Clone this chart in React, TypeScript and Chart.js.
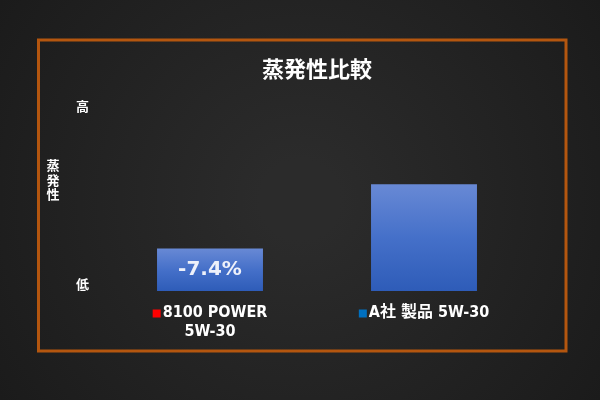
import { useEffect, useRef } from 'react';
import { Chart, registerables } from 'chart.js';

Chart.register(...registerables);

// 軸ラベル（先頭の空白はマーカー用）
const categories: string[][] = [['  8100 POWER', '5W-30'], ['  A社 製品 5W-30']];
const markerColors = ['#ff0000', '#0070c0'];
const values = [92.6, 100];
const barLabels = ['-7.4%', ''];
const yTickValues = [88.5, 109];
const yTickLabels = ['低', '高'];
const yTitle = ['蒸', '発', '性'];
const chartTitle = '蒸発性比較';

const CJK = '"Noto Sans CJK JP", sans-serif';
const LATIN = '"DejaVu Sans Condensed", "Noto Sans CJK JP", sans-serif';
const X_PAD = 12;
const X_LINE = 19;

const decor = {
  id: 'decor',
  beforeDraw(chart: any) {
    const { ctx, width, height } = chart;
    ctx.save();
    const g = ctx.createRadialGradient(width / 2, height / 2, 40, width / 2, height / 2, 380);
    g.addColorStop(0, '#2b2b2b');
    g.addColorStop(1, '#1a1a1a');
    ctx.fillStyle = g;
    ctx.fillRect(0, 0, width, height);
    // 枠
    ctx.strokeStyle = '#b4560f';
    ctx.lineWidth = 3;
    ctx.strokeRect(38.5, 40, 527.5, 311);
    ctx.restore();
  },
  afterDraw(chart: any) {
    const { ctx, chartArea } = chart;
    const x = chart.scales.x;
    const y = chart.scales.y;
    ctx.save();
    ctx.textAlign = 'center';
    ctx.textBaseline = 'middle';

    // 棒の中の差分ラベル
    ctx.font = 'bold 20px "DejaVu Sans", sans-serif';
    ctx.fillStyle = '#eef1fa';
    values.forEach((v, i) => {
      if (!barLabels[i]) return;
      const cx = x.getPixelForValue(i);
      const cy = (y.getPixelForValue(v) + chartArea.bottom) / 2;
      ctx.fillText(barLabels[i], cx, cy);
    });

    // 縦書きの軸タイトル
    ctx.font = 'bold 13px ' + CJK;
    ctx.fillStyle = '#ffffff';
    yTitle.forEach((ch, i) => {
      ctx.fillText(ch, chartArea.left - 50, 180 + (i - 1) * 14.5);
    });

    // ラベル前の色付きマーカー
    ctx.font = 'bold 16px ' + LATIN;
    categories.forEach((lines, i) => {
      const px = x.getPixelForTick(i);
      const w = ctx.measureText(lines[0]).width;
      const left = px - w / 2;
      const cy = x.top + X_PAD + X_LINE / 2 + 1;
      ctx.fillStyle = markerColors[i];
      ctx.fillRect(left, cy - 4, 8, 8);
    });
    ctx.restore();
  },
};

export default function App() {
  const canvasRef = useRef<HTMLCanvasElement>(null);
  const chartRef = useRef<Chart | null>(null);

  useEffect(() => {
    if (!canvasRef.current) return;
    if (chartRef.current) chartRef.current.destroy();

    chartRef.current = new Chart(canvasRef.current, {
      type: 'bar',
      data: {
        labels: categories,
        datasets: [
          {
            data: values,
            backgroundColor: (c: any) => {
              const chart = c.chart;
              if (!chart.chartArea || c.type !== 'data') return '#4472c4';
              const y = chart.scales.y;
              const top = y.getPixelForValue(c.parsed.y);
              const base = chart.chartArea.bottom;
              const g = chart.ctx.createLinearGradient(0, top, 0, base);
              g.addColorStop(0, '#6889d5');
              g.addColorStop(0.5, '#4570c9');
              g.addColorStop(1, '#2e5cb8');
              return g;
            },
            borderWidth: 0,
            categoryPercentage: 1,
            barPercentage: 0.495,
          },
        ],
      },
      options: {
        responsive: true,
        maintainAspectRatio: false,
        animation: false,
        layout: { padding: { left: 76, right: 69, top: 40, bottom: 62 } },
        plugins: {
          legend: { display: false },
          tooltip: { enabled: false },
          title: {
            display: true,
            text: chartTitle,
            fullSize: false,
            color: '#ffffff',
            font: { family: CJK, size: 22, weight: 'bold', lineHeight: 1.2 },
            padding: { top: 15, bottom: 24.6 },
          },
        },
        scales: {
          x: {
            grid: { display: false, drawTicks: false },
            border: { display: false },
            ticks: {
              color: '#ffffff',
              padding: X_PAD,
              maxRotation: 0,
              autoSkip: false,
              font: { family: LATIN, size: 16, weight: 'bold', lineHeight: X_LINE / 16 },
            },
            afterFit: (s: any) => {
              s.height = 47;
            },
          },
          y: {
            min: 87.7,
            max: 109,
            grid: { display: false, drawTicks: false },
            border: { display: false },
            afterBuildTicks: (s: any) => {
              s.ticks = yTickValues.map((v) => ({ value: v }));
            },
            ticks: {
              color: '#ffffff',
              padding: 14,
              font: { family: CJK, size: 13, weight: 'bold' },
              callback: (_v: any, i: number) => yTickLabels[i],
            },
            afterFit: (s: any) => {
              s.width = 27;
            },
          },
        },
      },
      plugins: [decor],
    });

    return () => {
      if (chartRef.current) {
        chartRef.current.destroy();
        chartRef.current = null;
      }
    };
  }, []);

  return (
    <div style={{ position: 'fixed', left: 0, top: 0, width: 600, height: 400 }}>
      <canvas ref={canvasRef} />
    </div>
  );
}
